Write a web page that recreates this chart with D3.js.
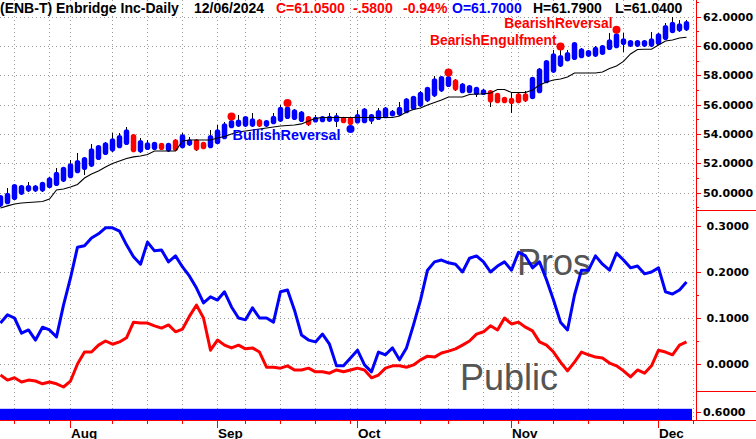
<!DOCTYPE html>
<html><head><meta charset="utf-8">
<script src="https://cdn.jsdelivr.net/npm/d3@7"></script>
<style>
html,body{margin:0;padding:0;background:#fff;}
svg{display:block;}
</style></head>
<body>
<svg id="c" width="756" height="439"></svg>
<script>
// ---------- DATA ----------
const dates = [
 "07-18","07-19","07-22","07-23","07-24","07-25","07-26","07-29","07-30","07-31",
 "08-01","08-02","08-06","08-07","08-08","08-09","08-12","08-13","08-14","08-15","08-16","08-19","08-20","08-21","08-22","08-23","08-26","08-27","08-28","08-29","08-30",
 "09-03","09-04","09-05","09-06","09-09","09-10","09-11","09-12","09-13","09-16","09-17","09-18","09-19","09-20","09-23","09-24","09-25","09-26","09-27","09-30",
 "10-01","10-02","10-03","10-04","10-07","10-08","10-09","10-10","10-11","10-15","10-16","10-17","10-18","10-21","10-22","10-23","10-24","10-25","10-28","10-29","10-30","10-31",
 "11-01","11-04","11-05","11-06","11-07","11-08","11-11","11-12","11-13","11-14","11-15","11-18","11-19","11-20","11-21","11-22","11-25","11-26","11-27","11-28","11-29",
 "12-02","12-03","12-04","12-05","12-06"
];
const nextSession = "12-09";

const open = [
 49.05,49.21,49.50,49.85,50.07,50.07,50.07,50.30,50.46,50.75,
 50.98,51.32,51.55,51.77,52.23,52.57,52.80,53.03,53.25,54.00,
 52.73,52.91,52.91,53.41,52.80,53.64,53.03,53.19,53.64,53.48,
 53.03,53.30,53.64,54.39,54.50,54.50,54.50,55.01,54.50,54.66,
 54.84,55.03,54.96,54.82,55.23,54.79,54.80,54.84,54.80,55.18,
 55.16,54.72,54.73,54.84,54.96,55.07,55.20,55.26,55.41,55.64,
 55.86,56.21,56.55,56.89,57.21,57.73,56.78,56.78,56.66,56.66,
 57.00,56.82,56.55,56.48,56.78,56.78,56.37,56.78,57.46,58.18,
 58.59,58.95,59.05,59.16,59.27,59.27,59.39,59.73,59.85,60.07,
 59.95,59.95,59.95,59.95,60.07,60.41,60.87,60.98,61.70];
const high = [
 49.85,50.30,50.60,50.53,50.75,50.51,50.75,51.05,51.67,51.77,
 52.23,52.69,52.44,53.30,53.25,53.44,54.05,54.09,54.50,54.00,
 53.71,53.59,53.48,53.41,53.41,53.64,54.07,53.82,53.64,53.48,
 54.28,54.62,54.84,54.96,55.30,55.23,55.41,55.01,54.96,55.44,
 55.98,55.88,55.69,55.55,55.23,55.30,55.23,55.46,55.44,55.18,
 55.16,55.64,55.76,55.37,55.80,55.82,55.61,56.21,56.44,56.61,
 56.96,57.23,57.96,57.96,57.96,57.73,57.46,57.34,57.23,57.05,
 57.00,56.82,56.55,56.89,56.78,56.96,57.91,58.48,59.05,59.73,
 59.73,59.73,60.28,59.85,59.73,60.02,60.07,60.87,60.87,60.87,
 60.41,60.41,60.41,60.98,60.87,61.55,62.00,61.78,61.79];
const low = [
 49.05,49.21,49.50,49.85,50.07,50.07,50.07,50.30,50.46,50.75,
 50.98,51.32,51.21,51.77,52.23,52.57,52.80,53.03,53.25,52.76,
 52.73,52.91,52.91,52.91,52.80,52.84,53.03,53.19,52.87,52.96,
 53.03,53.30,53.64,54.39,54.50,54.50,54.50,54.50,54.50,54.66,
 54.84,55.03,54.96,54.82,54.58,54.79,54.80,54.84,54.50,54.73,
 54.62,54.72,54.73,54.69,54.96,55.07,55.20,55.26,55.41,55.64,
 55.86,56.21,56.55,56.89,57.21,56.96,56.78,56.78,56.55,56.66,
 55.86,56.10,56.10,55.46,56.10,56.21,56.37,56.78,57.46,58.18,
 58.59,58.95,59.05,59.16,59.27,59.27,59.39,59.73,59.85,59.59,
 59.95,59.95,59.95,59.95,60.07,60.41,60.87,60.98,61.04];
const close = [
 49.85,50.00,50.60,50.53,50.53,50.51,50.75,51.05,51.43,51.77,
 52.01,52.23,52.44,53.03,53.25,53.44,53.71,53.94,54.32,52.76,
 53.59,53.44,53.48,52.91,53.41,52.84,53.98,53.64,52.87,52.96,
 53.94,54.32,54.73,54.96,54.99,55.23,55.07,54.50,54.96,55.25,
 55.86,55.88,55.69,55.55,54.58,55.18,55.23,55.25,55.30,54.73,
 54.62,55.37,55.76,55.37,55.64,55.82,55.61,55.86,56.44,56.61,
 56.89,57.23,57.80,57.96,57.96,56.96,57.46,57.34,57.23,57.05,
 56.14,56.10,56.10,56.05,56.10,56.21,57.91,58.48,59.05,59.51,
 59.39,59.59,60.28,59.85,59.73,59.95,60.07,60.46,60.87,60.53,
 60.41,60.41,60.41,60.53,60.87,61.43,61.66,61.55,61.05];
// candle colour class per session (B = blue, R = red)
const tone = "BBBBBBBBBB"+"BBBBBBBBBR"+"BBBRBRBBRR"+"BBBBBBBRBB"+"BBBBRBBBBR"+
             "RBBBBBBBBB"+"BBBBBRBBBB"+"RRRRRRBBBB"+"BBBBBBBBBB"+"BBBBBBBBB";
// trailing support line (black)
const support = [
 48.96,49.10,49.23,49.30,49.33,49.37,49.40,49.57,50.19,50.25,
 50.39,50.56,51.00,51.28,51.48,51.75,51.99,52.16,52.33,52.44,
 52.50,52.61,52.84,52.84,52.84,52.84,53.53,53.59,53.59,53.59,
 53.59,53.73,53.83,54.00,54.14,54.21,54.28,54.34,54.41,54.48,
 54.55,54.58,54.62,54.69,54.89,55.07,55.13,55.13,55.13,55.13,
 55.13,55.13,55.13,55.13,55.13,55.13,55.13,55.23,55.50,55.67,
 55.78,55.98,56.15,56.32,56.53,56.53,56.53,56.70,56.73,56.73,
 56.80,57.04,57.04,56.83,56.83,56.83,57.00,57.34,57.55,57.68,
 57.75,57.89,58.16,58.16,58.16,58.16,58.23,58.47,58.64,58.95,
 59.46,59.76,59.78,59.78,60.07,60.34,60.41,60.55,60.60];
// pattern signals
const signals = [
 {date:"09-05", kind:"bear", label:""},
 {date:"09-17", kind:"bear", label:""},
 {date:"09-30", kind:"bull", label:"BullishReversal"},
 {date:"10-21", kind:"bear", label:""},
 {date:"11-12", kind:"bear", label:"BearishEngulfment"},
 {date:"11-22", kind:"bear", label:"BearishReversal"}
];
// sentiment panel
const pros = [
 0.089,0.107,0.100,0.067,0.074,0.052,0.080,0.074,0.059,0.128,
 0.187,0.254,0.257,0.274,0.283,0.296,0.296,0.289,0.259,0.233,
 0.217,0.265,0.246,0.248,0.222,0.235,0.211,0.191,0.165,0.133,
 0.146,0.139,0.157,0.124,0.100,0.096,0.122,0.100,0.100,0.091,
 0.157,0.161,0.117,0.063,0.052,0.048,0.065,0.043,-0.004,-0.004,
 0.013,0.030,-0.002,-0.017,0.026,0.020,0.035,0.009,0.035,0.085,
 0.139,0.204,0.222,0.226,0.220,0.217,0.200,0.230,0.235,0.222,
 0.200,0.213,0.222,0.204,0.243,0.235,0.209,0.222,0.183,0.139,
 0.091,0.074,0.150,0.204,0.204,0.235,0.217,0.204,0.241,0.226,
 0.209,0.213,0.196,0.200,0.209,0.157,0.152,0.161,0.178];
const publicSent = [
 -0.024,-0.035,-0.030,-0.039,-0.035,-0.037,-0.043,-0.039,-0.043,-0.050,
 -0.037,0.000,0.026,0.026,0.041,0.050,0.043,0.048,0.057,0.091,
 0.089,0.089,0.083,0.078,0.085,0.070,0.076,0.104,0.128,0.100,
 0.030,0.052,0.041,0.035,0.041,0.033,0.035,0.026,-0.007,-0.007,
 -0.009,-0.004,-0.013,-0.013,-0.009,-0.017,-0.017,-0.020,-0.013,-0.017,
 -0.013,-0.009,-0.013,-0.030,-0.024,-0.009,-0.004,-0.004,-0.007,-0.002,
 0.009,0.017,0.015,0.024,0.028,0.033,0.041,0.050,0.065,0.070,
 0.083,0.074,0.100,0.087,0.091,0.080,0.072,0.048,0.041,0.026,
 0.004,-0.015,0.004,0.026,0.020,0.015,0.013,0.002,-0.004,-0.015,
 -0.028,-0.013,-0.020,-0.004,0.030,0.026,0.020,0.041,0.048];
const barLevel = -0.57;
// axis ticks
const priceTicks = [50,52,54,56,58,60,62];
const priceMinor = [49,51,53,55,57,59,61,63];
const sentTicks = [0,0.1,0.2,0.3];
const sentMinor = [0.05,0.15,0.25];
const barTicks = [-0.6];
const weekTicks = ["07-22","07-29","08-12","08-19","08-26","09-09","09-16","09-23","09-30",
  "10-07","10-15","10-21","10-28","11-04","11-11","11-18","11-25","12-09"];
const monthTicks = ["08-01","09-03","10-01","11-01","12-02"];
const monthLabels = ["Aug","Sep","Oct","Nov","Dec"];
const quote = {symbol:"(ENB-T) Enbridge Inc-Daily", date:"12/06/2024", change:-0.58, pct:-0.94};

// ---------- LAYOUT ----------
const W = 756;
const plotR = 696.5;
const pTop = {y0:0, y1:210};
const pMid = {y0:211, y1:391.5};
const pBot = {y0:392, y1:420};
const BLUE = "#0000ff", RED = "#ff0000";
const FONT = "'DejaVu Sans', Verdana, sans-serif";
const AFONT = "'Liberation Sans', Arial, Helvetica, sans-serif";

const svg = d3.select("#c");
const x = d3.scalePoint().domain(dates.concat([nextSession])).range([0, 693]);
const yP = d3.scaleLinear().domain([50, 62]).range([192.7, 16.7]);
const yS = d3.scaleLinear().domain([0, 0.3]).range([364, 226]);
const yB = d3.scaleLinear().domain([-0.69, -0.39]).range([pBot.y1, pBot.y0]);
const idx = d3.range(dates.length);
const cx = i => x(dates[i]) + 0.5;
const minus = s => s.replace(/\u2212/g, "-");

const defs = svg.append("defs");
defs.append("clipPath").attr("id","clipTop").append("rect").attr("x",0).attr("y",pTop.y0).attr("width",plotR).attr("height",pTop.y1-pTop.y0);
defs.append("clipPath").attr("id","clipMid").append("rect").attr("x",0).attr("y",pMid.y0).attr("width",plotR).attr("height",pMid.y1-pMid.y0);

// ---------- GRID ----------
const grid = svg.append("g").attr("stroke","#9a9a9a").attr("stroke-width",1).attr("stroke-dasharray","1,3").attr("shape-rendering","crispEdges");
grid.selectAll("line.v").data(weekTicks.concat(monthTicks)).join("line")
  .attr("x1",d=>x(d)+0.5).attr("x2",d=>x(d)+0.5).attr("y1",pTop.y0).attr("y2",pBot.y1);
grid.selectAll("line.hp").data(priceTicks).join("line")
  .attr("x1",0).attr("x2",plotR).attr("y1",d=>Math.round(yP(d))+0.5).attr("y2",d=>Math.round(yP(d))+0.5);
grid.selectAll("line.hs").data(sentTicks).join("line")
  .attr("x1",0).attr("x2",plotR).attr("y1",d=>Math.round(yS(d))+0.5).attr("y2",d=>Math.round(yS(d))+0.5);

// ---------- PRICE PANEL ----------
const gTop = svg.append("g").attr("clip-path","url(#clipTop)");
gTop.append("g").selectAll("line").data(idx).join("line")
  .attr("x1",cx).attr("x2",cx).attr("y1",i=>yP(high[i])).attr("y2",i=>yP(low[i]))
  .attr("stroke","#000").attr("stroke-width",1).attr("shape-rendering","crispEdges");
gTop.append("g").selectAll("rect").data(idx).join("rect")
  .attr("x",i=>cx(i)-2.75).attr("width",5.5)
  .attr("y",i=>{const t=yP(Math.max(open[i],close[i])), b=yP(Math.min(open[i],close[i])); return (b-t<5)?(t+b)/2-2.5:t;})
  .attr("height",i=>Math.max(5, yP(Math.min(open[i],close[i]))-yP(Math.max(open[i],close[i]))))
  .attr("rx",2.75).attr("ry",2.8)
  .attr("fill",i=>tone[i]==="R"?RED:BLUE);
gTop.append("path").datum(idx)
  .attr("d", d3.line().x(cx).y(i=>yP(support[i])))
  .attr("fill","none").attr("stroke","#000").attr("stroke-width",1.1);
const sigIndex = s => dates.indexOf(s.date);
const sigY = s => { const i = sigIndex(s); return s.kind==="bear" ? yP(high[i]) - 3.5 : yP(low[i]) + 4; };
gTop.append("g").selectAll("circle").data(signals).join("circle")
  .attr("cx",s=>cx(sigIndex(s))).attr("cy",sigY).attr("r",4)
  .attr("fill",s=>s.kind==="bear"?RED:BLUE);
gTop.append("g").selectAll("text").data(signals.filter(s=>s.label)).join("text")
  .attr("x",s=>cx(sigIndex(s)) - (s.kind==="bear"?4:10))
  .attr("y",s=>sigY(s) + (s.kind==="bear"?-1.3:11.5))
  .attr("text-anchor","end").attr("font-family",AFONT).attr("font-weight","bold")
  .attr("font-size",s=>s.kind==="bear"?"13.8px":"14.4px")
  .attr("fill",s=>s.kind==="bear"?RED:BLUE).text(s=>s.label);

// ---------- SENTIMENT PANEL ----------
const gMid = svg.append("g").attr("clip-path","url(#clipMid)");
gMid.append("text").attr("x",517).attr("y",275).attr("font-family",AFONT)
  .attr("font-size","36px").attr("fill","#555").text("Pros");
gMid.append("text").attr("x",460).attr("y",390).attr("font-family",AFONT)
  .attr("font-size","36px").attr("fill","#555").text("Public");
[[publicSent,RED],[pros,BLUE]].forEach(([s,c])=>{
  gMid.append("path").datum(idx).attr("d", d3.line().x(cx).y(i=>yS(s[i])))
    .attr("fill","none").attr("stroke",c).attr("stroke-width",3).attr("stroke-linejoin","round");
});

// ---------- BAR PANEL ----------
svg.append("rect").attr("x",0).attr("width",x(nextSession)-1)
  .attr("y",yB(barLevel)).attr("height",yB.range()[0]-yB(barLevel)).attr("fill",BLUE);

// ---------- AXES ----------
const ax = svg.append("g").attr("stroke",RED).attr("stroke-width",1).attr("shape-rendering","crispEdges");
ax.append("line").attr("x1",plotR).attr("x2",plotR).attr("y1",0).attr("y2",pBot.y1+1);
ax.append("line").attr("x1",0).attr("x2",W).attr("y1",pBot.y1+0.5).attr("y2",pBot.y1+0.5);
ax.append("line").attr("x1",plotR).attr("x2",W).attr("y1",pTop.y1+0.5).attr("y2",pTop.y1+0.5);
ax.append("line").attr("x1",plotR).attr("x2",W).attr("y1",pMid.y1).attr("y2",pMid.y1);
const rTick = (vals, sc, len) => ax.append("g").selectAll("line").data(vals).join("line")
  .attr("x1",plotR).attr("x2",plotR+len).attr("y1",d=>Math.round(sc(d))+0.5).attr("y2",d=>Math.round(sc(d))+0.5);
rTick(priceTicks, yP, 4); rTick(priceMinor.filter(d=>yP(d)>1&&yP(d)<pTop.y1-2), yP, 2);
rTick(sentTicks, yS, 4); rTick(sentMinor, yS, 2); rTick(barTicks, yB, 4);
ax.append("g").selectAll("line").data(weekTicks).join("line")
  .attr("x1",d=>x(d)+0.5).attr("x2",d=>x(d)+0.5).attr("y1",pBot.y1+1).attr("y2",pBot.y1+4);
ax.append("g").selectAll("line").data(monthTicks).join("line")
  .attr("x1",d=>x(d)+0.5).attr("x2",d=>x(d)+0.5).attr("y1",pBot.y1+1).attr("y2",pBot.y1+8);

const lab = svg.append("g").attr("font-weight","bold").attr("fill","#000");
const f4 = d3.format(".4f");
lab.selectAll("text.p").data(priceTicks).join("text").attr("x",703).attr("y",d=>yP(d)+4)
  .attr("font-family",FONT).attr("font-size","11px").text(f4);
lab.selectAll("text.s").data(sentTicks).join("text").attr("x",706.5).attr("y",d=>yS(d)+4)
  .attr("font-family",FONT).attr("font-size","11px").text(f4);
lab.selectAll("text.b").data(barTicks).join("text").attr("x",703).attr("y",d=>yB(d)+4.5)
  .attr("font-family",FONT).attr("font-size","11px").text(d=>f4(Math.abs(d)));
lab.selectAll("text.m").data(monthTicks).join("text").attr("x",d=>x(d)+1).attr("y",437.5)
  .attr("font-family",AFONT).attr("font-size","13.5px").text((d,i)=>monthLabels[i]);

// ---------- HEADER ----------
const last = dates.length-1;
const hdr = [
 {t:quote.symbol, x:0, c:"#000"},
 {t:quote.date, x:194, c:"#000"},
 {t:"C="+f4(close[last]), x:276, c:RED},
 {t:minus(f4(quote.change)).replace("0.","."), x:353, c:RED},
 {t:minus(d3.format(".2f")(quote.pct))+"%", x:403, c:RED},
 {t:"O="+f4(open[last]), x:452, c:BLUE},
 {t:"H="+f4(high[last]), x:533, c:"#000"},
 {t:"L="+f4(low[last]), x:615, c:"#000"}
];
svg.append("g").selectAll("text").data(hdr).join("text")
  .attr("x",d=>d.x).attr("y",13).attr("font-family",AFONT).attr("font-weight","bold")
  .attr("font-size","14px").attr("fill",d=>d.c).text(d=>d.t);
</script>
</body></html>
